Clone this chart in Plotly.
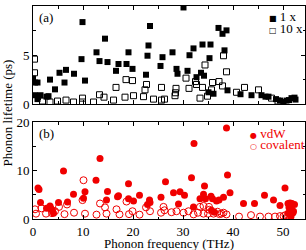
import plotly.graph_objects as go

# ---- data ----
f_1x = [0.0, 0.4, 0.9, 0.4, 0.9, 1.5, 1.0, 3.1, 2.7, 3.4, 4.4, 5.3, 6.3, 6.6, 8.2, 9.7, 9.9, 10.4,
        12.7, 13.3, 14.4, 14.9, 16.6, 17.1, 18.7, 19.1, 19.9, 22.6, 22.9, 23.1, 23.4,
        25.5, 25.9, 27.9, 28.7, 28.9, 30.1, 30.9, 31.3, 32.1, 32.7, 33.6, 33.9, 34.2, 35.1, 35.3, 35.5, 36.1,
        37.1, 37.9, 38.3, 38.7, 38.9, 41.5, 43.7, 45.7, 46.5, 47.1, 48.6, 49.4, 50.1, 50.7, 51.2, 51.7, 52.3, 52.5]
v_1x = [2.6, 2.2, 2.2, 0.9, 0.5, 0.9, 0.7, 0.8, 0.75, 2.5, 1.5, 3.2, 2.2, 3.5, 3.1, 4.6, 8.4, 2.4,
        5.3, 4.4, 6.7, 4.3, 3.4, 4.1, 4.1, 5.3, 3.6, 3.0, 4.95, 6.0, 8.0,
        3.9, 4.8, 5.3, 3.6, 3.1, 9.9, 3.4, 5.0, 5.7, 2.75, 3.2, 6.1, 2.9, 1.2, 4.7, 6.1, 1.05,
        7.8, 7.2, 5.5, 7.55, 1.4, 1.0, 0.9, 0.9, 0.75, 0.75, 0.5, 0.35, 0.2, 0.35, 0.4, 0.6, 0.65, 0.45]

f_10x = [0.3, 0.3, 1.9, 3.4, 4.9, 6.6, 8.1, 9.9, 9.9, 12.1, 13.3, 14.2, 16.1, 16.6, 18.4, 18.6, 19.9, 20.1,
         22.1, 22.4, 22.7, 24.1, 25.7, 26.3, 25.7, 28.6, 28.5, 28.4, 30.6, 31.2, 32.5, 32.7, 33.9, 33.4,
         34.4, 34.9, 35.7, 35.9, 37.2, 37.9, 38.1, 38.7, 40.7, 42.3, 45.1, 47.7, 49.0]
v_10x = [4.6, 3.2, 0.3, 0.2, 0.3, 0.4, 0.2, 0.6, 0.2, 0.2, 0.95, 0.7, 0.4, 1.7, 0.7, 2.5, 2.4, 0.85,
         0.75, 1.45, 2.0, 0.5, 0.4, 0.5, 1.7, 1.6, 1.15, 0.85, 2.65, 1.6, 2.3, 2.0, 1.7, 0.6,
         4.0, 0.8, 1.45, 2.2, 2.3, 1.85, 4.95, 3.3, 1.2, 1.7, 1.45, 0.6, 0.3]

f_vdw = [1.0, 1.2, 1.5, 2.7, 3.4, 3.9, 4.1, 5.1, 6.1, 6.9, 8.1, 10.1, 10.4, 12.6, 13.4, 14.7, 14.9, 16.9, 17.1,
         19.1, 19.1, 20.1, 21.3, 22.9, 23.3, 23.4, 25.6, 26.5, 28.1, 29.1, 29.4, 30.3, 31.7, 32.2, 32.1,
         33.4, 34.1, 34.3, 34.5, 35.6, 35.9, 35.7, 36.3, 36.7, 37.2, 38.1, 38.7, 38.9, 39.4, 42.1, 44.3,
         46.3, 48.1, 49.4, 50.4, 51.0, 51.4, 51.8, 52.3, 51.2, 51.7, 52.1, 51.0, 51.5, 52.0, 51.6]
v_vdw = [6.4, 6.1, 3.4, 2.2, 2.7, 1.8, 1.2, 3.4, 9.9, 3.5, 5.1, 4.3, 5.6, 8.0, 12.5, 3.9, 5.7, 4.6, 4.8,
         7.3, 4.2, 3.7, 4.9, 3.0, 3.9, 3.4, 4.5, 7.7, 5.4, 3.1, 5.6, 4.9, 8.5, 15.6, 2.5,
         4.2, 5.1, 6.8, 4.2, 4.7, 4.2, 1.8, 1.4, 3.7, 3.9, 4.5, 18.8, 9.1, 5.4, 3.2, 3.2,
         4.9, 3.9, 2.8, 6.4, 3.2, 3.3, 3.2, 3.0, 2.4, 1.9, 1.6, 1.2, 0.9, 1.3, 0.5]

f_cov = [0.4, 0.6, 1.7, 2.6, 3.5, 3.8, 4.4, 5.2, 6.3, 6.8, 8.2, 9.9, 10.1, 10.4, 12.7, 13.4, 14.4, 14.7,
         16.7, 17.3, 18.7, 19.2, 19.9, 21.3, 22.6, 23.4, 25.6, 26.1, 26.3, 27.7, 28.7, 30.1, 31.1, 32.1,
         33.0, 33.4, 34.1, 34.1, 35.0, 35.2, 35.3, 36.1, 36.9, 37.3, 37.7, 38.1, 38.7, 41.2, 43.6, 45.4,
         47.1, 48.4, 49.4, 50.1, 50.5, 51.0, 51.5]
v_cov = [2.0, 1.1, 2.2, 1.1, 2.2, 1.2, 1.6, 2.5, 1.0, 3.0, 1.3, 3.9, 8.0, 1.1, 0.9, 3.2, 2.4, 1.1,
         2.0, 0.95, 3.6, 1.0, 1.6, 0.9, 2.4, 1.6, 1.3, 2.5, 1.8, 1.4, 1.6, 1.3, 1.6, 0.95,
         1.3, 2.5, 2.7, 1.1, 1.1, 2.5, 1.9, 1.1, 1.5, 1.0, 1.1, 1.3, 0.95, 0.5, 0.8, 0.5,
         0.5, 0.5, 0.6, 0.6, 0.8, 0.7, 0.9]

x_ticks = [0, 10, 20, 30, 40, 50]
top_y_ticks = [0, 5, 10]
bot_y_ticks = [0, 10, 20]

FONT = "Liberation Serif"
RED = "#f00000"

fig = go.Figure()
fig.add_trace(go.Scatter(x=f_1x, y=v_1x, mode="markers", name="1 x",
                         marker=dict(symbol="square", size=6, color="black", line=dict(width=0)),
                         xaxis="x2", yaxis="y2"))
fig.add_trace(go.Scatter(x=f_10x, y=v_10x, mode="markers", name="10 x",
                         marker=dict(symbol="square-open", size=6, color="black", line=dict(width=1)),
                         xaxis="x2", yaxis="y2"))
fig.add_trace(go.Scatter(x=f_vdw, y=v_vdw, mode="markers", name="vdW",
                         marker=dict(symbol="circle", size=7, color=RED, line=dict(width=0)),
                         xaxis="x", yaxis="y"))
fig.add_trace(go.Scatter(x=f_cov, y=v_cov, mode="markers", name="covalent",
                         marker=dict(symbol="circle-open", size=7, color=RED, line=dict(width=1)),
                         xaxis="x", yaxis="y"))

axis_common = dict(showline=True, linecolor="black", linewidth=1, mirror="ticks",
                   ticks="inside", ticklen=4, tickcolor="black", tickwidth=1,
                   showgrid=False, zeroline=False, automargin=False,
                   tickfont=dict(family=FONT, size=13, color="black"))
minor_common = dict(ticks="inside", ticklen=2.5, tickcolor="black", showgrid=False)

fig.update_layout(
    width=306, height=250,
    margin=dict(l=33, r=1, t=6, b=31, autoexpand=False),
    paper_bgcolor="white", plot_bgcolor="white",
    showlegend=False,
    font=dict(family=FONT, size=13, color="black"),
    xaxis=dict(range=[0, 54.4], tickvals=x_ticks, domain=[0, 1], anchor="y",
               minor=dict(dtick=5, **minor_common), **axis_common),
    xaxis2=dict(range=[0, 54.4], tickvals=x_ticks, showticklabels=False, anchor="y2",
                domain=[0, 1], minor=dict(dtick=5, **minor_common), **axis_common),
    yaxis=dict(range=[0, 20], tickvals=bot_y_ticks, domain=[0, 0.455], anchor="x",
               minor=dict(dtick=5, **minor_common), **axis_common),
    yaxis2=dict(range=[0, 10.05], tickvals=top_y_ticks, domain=[0.54, 1], anchor="x2",
                minor=dict(dtick=2.5, **minor_common), **axis_common),
)

ann = []
ann.append(dict(text="Phonon lifetime (ps)", textangle=-90, xref="paper", yref="paper",
                x=-0.092, y=0.5, showarrow=False, font=dict(family=FONT, size=13),
                xanchor="center", yanchor="middle"))
ann.append(dict(text="Phonon frequency (THz)", xref="paper", yref="paper",
                x=0.5, y=-0.116, showarrow=False, font=dict(family=FONT, size=13),
                xanchor="center", yanchor="middle"))
ann.append(dict(text="(a)", xref="x2 domain", yref="y2 domain", x=0.015, y=0.98,
                xanchor="left", yanchor="top", showarrow=False, font=dict(family=FONT, size=13)))
ann.append(dict(text="(b)", xref="x domain", yref="y domain", x=0.015, y=0.98,
                xanchor="left", yanchor="top", showarrow=False, font=dict(family=FONT, size=13)))
# legends
ann.append(dict(text="<span style='font-family:DejaVu Sans;font-size:8px'>■</span> 1 x",
                xref="x2 domain", yref="y2 domain", x=0.86, y=0.895, xanchor="left", yanchor="middle",
                showarrow=False, font=dict(family=FONT, size=13, color="black")))
ann.append(dict(text="<span style='font-family:DejaVu Sans;font-size:8px'>□</span> 10 x",
                xref="x2 domain", yref="y2 domain", x=0.86, y=0.77, xanchor="left", yanchor="middle",
                showarrow=False, font=dict(family=FONT, size=13, color="black")))
ann.append(dict(text="<span style='font-family:DejaVu Sans;font-size:8px'>●</span> vdW",
                xref="x domain", yref="y domain", x=0.79, y=0.885, xanchor="left", yanchor="middle",
                showarrow=False, font=dict(family=FONT, size=13, color=RED)))
ann.append(dict(text="<span style='font-family:DejaVu Sans;font-size:8px'>○</span> covalent",
                xref="x domain", yref="y domain", x=0.79, y=0.765, xanchor="left", yanchor="middle",
                showarrow=False, font=dict(family=FONT, size=13, color=RED)))
fig.update_layout(annotations=ann)

fig.write_html("out.html", config={"displayModeBar": False},
               post_script="document.body.style.margin='0';document.body.style.overflow='hidden';")
